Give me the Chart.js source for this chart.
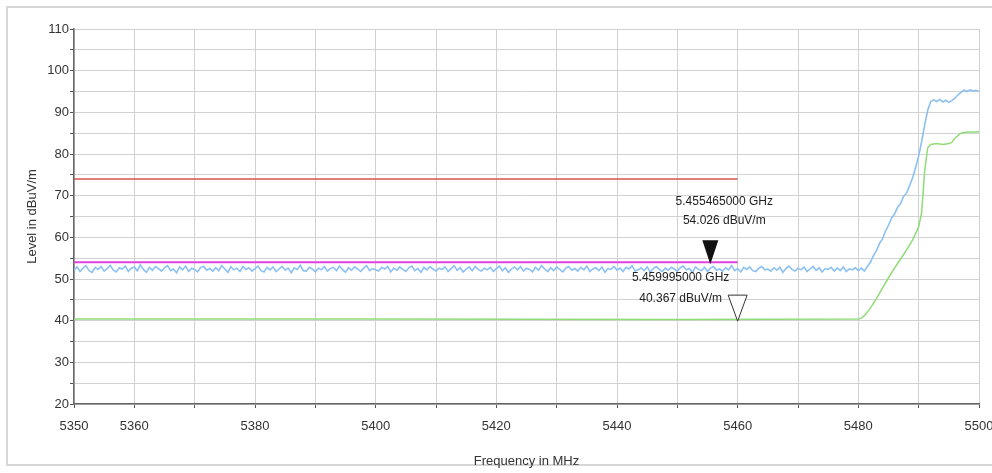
<!DOCTYPE html>
<html>
<head>
<meta charset="utf-8">
<script src="https://cdn.jsdelivr.net/npm/chart.js@4.4.1/dist/chart.umd.min.js"></script>
<style>
  html, body { margin: 0; padding: 0; background: #fff; }
  #wrap { position: relative; width: 992px; height: 473px; }
  #frame {
    position: absolute; left: 6px; top: 6px; width: 990px; height: 460px;
    border: 2px solid #d6d6d6; box-sizing: border-box; pointer-events: none;
  }
  canvas { position: absolute; left: 0; top: 0; }
</style>
</head>
<body>
<div id="wrap">
  <div id="frame"></div>
  <canvas id="spectrum" width="992" height="473"></canvas>
</div>
<script>
// Frequency axis (MHz) and level axis (dBuV/m)
const xTickLabels = [5350, 5360, 5380, 5400, 5420, 5440, 5460, 5480, 5500];
const yTickLabels = [20, 30, 40, 50, 60, 70, 80, 90, 100, 110];

// Peak trace, sampled every 0.5 MHz from 5350 MHz
const peakStart = 5350;
const peakStep = 0.5;
const peakLevels = [
  52.1, 52.9, 51.8, 52.6, 53.2, 52.0, 51.6, 52.8, 52.3, 53.0, 51.9, 52.5, 53.3, 52.2, 51.7, 52.7, 52.4, 53.1, 51.8, 52.6,
  52.9, 52.0, 53.4, 52.3, 51.6, 52.8, 52.1, 53.0, 52.5, 51.9, 52.7, 53.2, 52.0, 52.4, 51.5, 52.9, 52.2, 53.1, 51.8, 52.6,
  52.3, 51.7, 52.8, 53.0, 52.1, 52.5, 51.9, 52.7, 52.0, 53.2, 52.4, 51.6, 52.9, 52.2, 52.6, 51.8, 53.0, 52.3, 52.7, 51.9,
  52.5, 53.1, 52.0, 51.7, 52.8, 52.2, 52.9, 51.8, 52.4, 53.0, 52.1, 52.6, 51.5, 52.7, 52.3, 53.3, 52.0, 51.9, 52.8, 52.4,
  51.7, 52.6, 52.2, 53.0, 51.9, 52.5, 52.8, 52.0, 53.1, 52.3, 51.6, 52.7, 52.1, 52.9, 52.4, 51.8, 52.6, 53.2, 52.0, 52.5,
  52.2, 51.9, 52.8, 52.4, 53.0, 51.7, 52.6, 52.1, 52.9, 52.3, 51.8, 52.7, 53.1, 52.0, 52.5, 51.6, 52.8, 52.2, 53.0, 52.4,
  51.9, 52.6, 52.3, 52.9, 51.8, 52.5, 53.2, 52.1, 52.7, 51.7, 52.4, 52.9, 52.0, 53.0, 52.3, 51.9, 52.6, 52.2, 52.8, 51.8,
  52.5, 53.1, 52.0, 52.7, 51.6, 52.4, 52.9, 52.2, 53.0, 51.9, 52.6, 52.3, 51.7, 52.8, 52.1, 53.2, 52.4, 51.8, 52.7, 52.0,
  52.9, 52.3, 51.7, 52.6, 53.0, 52.1, 52.5, 51.9, 52.8, 52.2, 53.1, 51.8, 52.4, 52.7, 52.0, 52.9, 51.6, 52.5, 52.3, 53.0,
  52.1, 52.6, 51.8, 52.8, 52.4, 53.2, 51.9, 52.2, 52.7, 52.0, 52.9, 51.7, 52.5, 53.0, 52.3, 51.8, 52.6, 52.1, 52.8, 52.4,
  51.9, 52.7, 53.1, 52.2, 52.5, 51.6, 52.9, 52.3, 52.0, 52.8, 51.8, 52.6, 53.0, 52.1, 52.4, 51.9, 52.7, 52.2, 53.2, 52.0,
  52.5, 51.7, 52.8, 52.3, 52.9, 52.0, 51.8, 52.6, 53.0, 52.2, 52.4, 51.9, 52.7, 52.1, 52.8, 51.6, 52.5, 53.1, 52.3, 51.9,
  52.6, 52.2, 52.9, 51.8, 52.4, 53.0, 52.1, 52.7, 51.7, 52.5, 52.3, 52.8, 51.9, 52.6, 52.0, 52.9, 51.8, 52.4, 52.2, 52.7,
  52.0, 52.6, 51.9, 53.0, 54.0, 55.6, 56.8, 58.5, 59.6, 61.5, 62.9, 64.6, 65.6, 67.2, 68.1, 69.8, 70.6, 72.4, 74.3, 76.8,
  79.5, 83.0, 87.0, 90.5, 92.6, 93.0, 92.6, 93.1, 92.5, 92.9, 92.4, 92.8, 93.4, 94.2, 94.8, 95.3, 95.0, 95.4, 95.1, 95.3,
  95.0
];

// Average trace
const avgFreqs = [5350, 5400, 5450, 5480, 5480.5, 5481, 5482, 5483, 5484, 5485, 5486, 5487, 5488, 5489, 5490,
  5490.5, 5491, 5491.5, 5492, 5493, 5494, 5495, 5495.5, 5496, 5497, 5498, 5500];
const avgLevels = [40.4, 40.4, 40.3, 40.4, 40.6, 41.2, 43.0, 45.3, 47.8, 50.3, 52.6, 54.8, 57.0, 59.4, 62.5,
  66.0, 76.0, 81.5, 82.3, 82.5, 82.3, 82.5, 82.8, 83.8, 85.0, 85.3, 85.3];

// Limit lines
const peakLimitFreqs = [5350, 5460];
const peakLimitLevels = [74, 74];
const avgLimitFreqs = [5350, 5460];
const avgLimitLevels = [54, 54];

// Markers
const markerFreqs = [5455.465, 5459.995];
const markerLevels = [54.026, 40.367];
const markerFilled = [true, false];

const toPoints = (xs, ys) => xs.map((x, i) => ({ x: x, y: ys[i] }));
const peakPoints = peakLevels.map((v, i) => ({ x: peakStart + i * peakStep, y: v }));

// label placement relative to the marker point (px)
const markerLayout = [
  { dx: 14, dy1: -61, dy2: -42, w: 16, h: 24 },
  { dx: -57, dy1: -41, dy2: -20, w: 19, h: 26 },
];

const markerPlugin = {
  id: "markers",
  afterDatasetsDraw(chart) {
    const ctx = chart.ctx;
    const xs = chart.scales.x;
    const ys = chart.scales.y;
    ctx.save();
    markerFreqs.forEach((f, i) => {
      const px = xs.getPixelForValue(f);
      const py = ys.getPixelForValue(markerLevels[i]);
      const lay = markerLayout[i];
      const tip = py + 2;
      ctx.beginPath();
      ctx.moveTo(px, tip);
      ctx.lineTo(px - lay.w / 2, tip - lay.h);
      ctx.lineTo(px + lay.w / 2, tip - lay.h);
      ctx.closePath();
      if (markerFilled[i]) {
        ctx.fillStyle = "#111";
        ctx.fill();
      } else {
        ctx.fillStyle = "#fff";
        ctx.fill();
        ctx.strokeStyle = "#333";
        ctx.lineWidth = 1;
        ctx.stroke();
      }
      ctx.fillStyle = "#222";
      ctx.font = "12px 'Liberation Sans', Arial, sans-serif";
      ctx.textAlign = "center";
      ctx.textBaseline = "middle";
      ctx.fillText((f / 1000).toFixed(9) + " GHz", px + lay.dx, py + lay.dy1);
      ctx.fillText(markerLevels[i].toFixed(3) + " dBuV/m", px + lay.dx, py + lay.dy2);
    });
    ctx.restore();
  },
};

Chart.defaults.font.family = "'Liberation Sans', Arial, sans-serif";
Chart.defaults.color = "#333";

new Chart(document.getElementById("spectrum"), {
  type: "line",
  data: {
    datasets: [
      {
        label: "Peak limit",
        data: toPoints(peakLimitFreqs, peakLimitLevels),
        borderColor: "#d9534a",
        borderWidth: 1.5,
        pointRadius: 0,
      },
      {
        label: "Average limit",
        data: toPoints(avgLimitFreqs, avgLimitLevels),
        borderColor: "#e040e0",
        borderWidth: 2,
        pointRadius: 0,
      },
      {
        label: "Average",
        data: toPoints(avgFreqs, avgLevels),
        borderColor: "#8fdc78",
        borderWidth: 1.5,
        pointRadius: 0,
      },
      {
        label: "Peak",
        data: peakPoints,
        borderColor: "#8cc0f2",
        borderWidth: 1.6,
        pointRadius: 0,
      },
    ],
  },
  options: {
    responsive: false,
    animation: false,
    layout: { padding: { left: 8, right: 0, top: 29, bottom: 4 } },
    plugins: {
      legend: { display: false },
      tooltip: { enabled: false },
    },
    scales: {
      x: {
        type: "linear",
        min: 5350,
        max: 5500,
        afterFit: (s) => {
          s.height = 65;
          s.paddingLeft = 0;
          s.paddingRight = 13;
        },
        border: { color: "#666", width: 1.5 },
        grid: { color: "#d2d2d2", tickColor: "#555", tickLength: 4 },
        ticks: {
          stepSize: 10,
          autoSkip: false,
          maxRotation: 0,
          padding: 11,
          font: { size: 13 },
          callback: (v) => (xTickLabels.includes(v) ? String(v) : ""),
        },
        title: {
          display: true,
          text: "Frequency in MHz",
          font: { size: 13 },
          padding: { top: 0, bottom: 0 },
        },
      },
      y: {
        min: 20,
        max: 110,
        afterFit: (s) => { s.width = 66; },
        border: { color: "#666", width: 1.5 },
        grid: { color: "#d2d2d2", tickColor: "#555", tickLength: 4 },
        ticks: {
          stepSize: 5,
          autoSkip: false,
          padding: 1,
          font: { size: 13 },
          callback: (v) => (yTickLabels.includes(v) ? String(v) : ""),
        },
        title: {
          display: true,
          text: "Level in dBuV/m",
          font: { size: 13 },
          padding: { top: 17, bottom: 0 },
        },
      },
    },
  },
  plugins: [markerPlugin],
});
</script>
</body>
</html>
